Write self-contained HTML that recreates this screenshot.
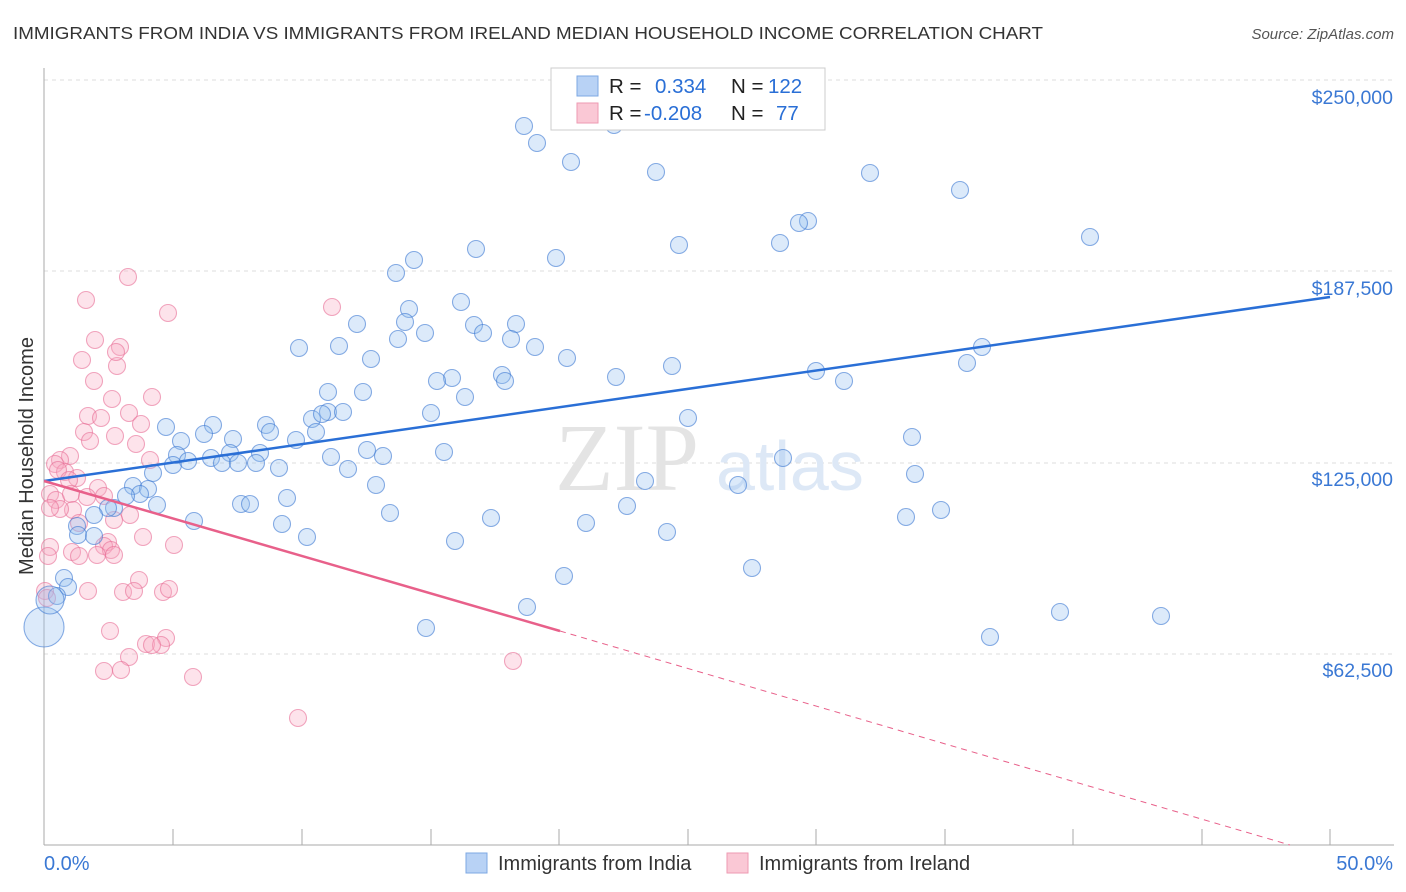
<!DOCTYPE html>
<html><head><meta charset="utf-8"><style>
body{margin:0;background:#fff;}
svg{display:block;font-family:"Liberation Sans",sans-serif;}
</style></head><body>
<svg id="s" width="1406" height="892" viewBox="0 0 1406 892" xmlns="http://www.w3.org/2000/svg">
<text x="13" y="39" font-size="17.5" fill="#333" textLength="1030" lengthAdjust="spacingAndGlyphs">IMMIGRANTS FROM INDIA VS IMMIGRANTS FROM IRELAND MEDIAN HOUSEHOLD INCOME CORRELATION CHART</text>
<text x="1394" y="39" font-size="15" fill="#555" font-style="italic" text-anchor="end">Source: ZipAtlas.com</text>
<g stroke="#ddd" stroke-dasharray="4,4" stroke-width="1">
<line x1="44" y1="80" x2="1394" y2="80"/><line x1="44" y1="271" x2="1394" y2="271"/>
<line x1="44" y1="463" x2="1394" y2="463"/><line x1="44" y1="654" x2="1394" y2="654"/>
</g>
<line x1="44" y1="68" x2="44" y2="845" stroke="#aaa"/>
<line x1="44" y1="845" x2="1394" y2="845" stroke="#aaa"/>
<g stroke="#aaa" id="ticks"></g>
<text x="555" y="490" font-size="96" fill="#e4e4e4" font-family="Liberation Serif,serif">ZIP</text>
<text x="716" y="490" font-size="70" fill="#dde8f6">atlas</text>
<g font-size="19.5" fill="#3a78d4" text-anchor="end">
<text x="1393" y="104">$250,000</text><text x="1393" y="295">$187,500</text>
<text x="1393" y="486">$125,000</text><text x="1393" y="677">$62,500</text>
</g>
<text x="33" y="456" font-size="20" fill="#333" text-anchor="middle" transform="rotate(-90 33 456)">Median Household Income</text>
<text x="44" y="870" font-size="20" fill="#3a78d4">0.0%</text>
<text x="1393" y="870" font-size="20" fill="#3a78d4" text-anchor="end">50.0%</text>
<g id="pts"></g>
<line x1="44" y1="481" x2="1330" y2="297" stroke="#2a6fd6" stroke-width="2.5"/>
<line x1="44" y1="481" x2="560" y2="631" stroke="#e8608a" stroke-width="2.5"/>
<line x1="560" y1="631" x2="1290" y2="845" stroke="#e8608a" stroke-width="1" stroke-dasharray="6,5"/>
<rect x="551" y="68" width="274" height="62" fill="#fff" stroke="#ccc"/>
<rect x="577" y="76" width="21" height="20" fill="#b8d2f5" stroke="#7ea8e3"/>
<rect x="577" y="103" width="21" height="20" fill="#fac8d5" stroke="#ee9ab2"/>
<g font-size="20.5"><text x="609" y="93" fill="#222">R =</text><text x="655" y="93" fill="#2a6fd6">0.334</text>
<text x="731" y="93" fill="#222">N =</text><text x="768" y="93" fill="#2a6fd6">122</text>
<text x="609" y="120" fill="#222">R =</text><text x="644" y="120" fill="#2a6fd6">-0.208</text>
<text x="731" y="120" fill="#222">N =</text><text x="776" y="120" fill="#2a6fd6">77</text></g>
<rect x="466" y="853" width="21" height="20" fill="#b8d2f5" stroke="#7ea8e3"/>
<text x="498" y="870" font-size="20" fill="#333">Immigrants from India</text>
<rect x="727" y="853" width="21" height="20" fill="#fac8d5" stroke="#ee9ab2"/>
<text x="759" y="870" font-size="20" fill="#333">Immigrants from Ireland</text>
</svg>
<script>
var ns="http://www.w3.org/2000/svg";
var t=document.getElementById('ticks');
[44,173,302,431,559,688,816,945,1073,1202,1330].forEach(function(x){var l=document.createElementNS(ns,'line');l.setAttribute('x1',x);l.setAttribute('x2',x);l.setAttribute('y1',829);l.setAttribute('y2',845);t.appendChild(l);});
var B=[524,126,537,143,614,125,571,162,656,172,870,173,960,190,808,221,799,223,1090,237,679,245,780,243,476,249,556,258,414,260,396,273,461,302,409,309,357,324,405,322,516,324,474,325,483,333,425,333,398,339,511,339,299,348,339,346,535,347,567,358,371,359,672,366,982,347,967,363,816,371,844,381,616,377,502,375,452,378,437,381,505,381,465,397,328,392,363,392,328,412,431,413,688,418,312,419,322,414,343,412,166,427,213,425,266,425,270,432,316,432,204,434,233,439,181,441,296,440,912,437,367,450,444,452,383,456,177,455,260,453,230,453,211,458,173,465,188,461,331,457,256,463,222,463,238,463,348,469,279,468,783,458,915,474,153,473,376,485,645,481,133,486,148,489,287,498,140,494,126,496,738,485,241,504,250,504,157,505,114,508,108,508,94,515,390,513,627,506,906,517,941,510,491,518,194,521,586,523,282,524,77,526,78,535,94,536,667,532,307,537,455,541,752,568,564,576,64,578,68,587,57,596,1060,612,1161,616,527,607,426,628,990,637];
var P=[128,277,86,300,168,313,332,307,95,340,120,347,82,360,117,366,94,381,112,399,152,397,129,413,88,416,101,418,141,424,84,432,115,436,90,441,136,444,70,456,60,460,55,464,65,472,150,460,58,470,77,478,69,480,98,488,50,494,56,500,71,494,104,496,87,497,130,515,114,520,73,510,60,509,50,508,79,523,108,542,104,546,111,550,143,537,174,545,50,547,48,556,72,552,79,556,114,555,97,555,139,580,123,592,88,591,134,591,163,592,169,589,45,591,47,598,110,631,166,638,146,644,161,645,152,645,129,657,104,671,121,670,193,677,298,718,513,661,116,352];
var g=document.getElementById('pts');
function c(x,y,r,f,s){var e=document.createElementNS(ns,'circle');e.setAttribute('cx',x);e.setAttribute('cy',y);e.setAttribute('r',r);e.setAttribute('fill',f);e.setAttribute('stroke',s);e.setAttribute('stroke-width',1.1);g.appendChild(e);}
for(var i=0;i<P.length;i+=2)c(P[i],P[i+1],8.5,'rgba(248,170,195,0.33)','rgba(232,110,150,0.6)');
for(var i=0;i<B.length;i+=2)c(B[i],B[i+1],8.5,'rgba(150,190,240,0.33)','rgba(60,120,210,0.6)');
c(44,627,20,'rgba(150,190,240,0.33)','rgba(60,120,210,0.6)');
c(50,600,14,'rgba(150,190,240,0.33)','rgba(60,120,210,0.6)');
</script>
</body></html>
